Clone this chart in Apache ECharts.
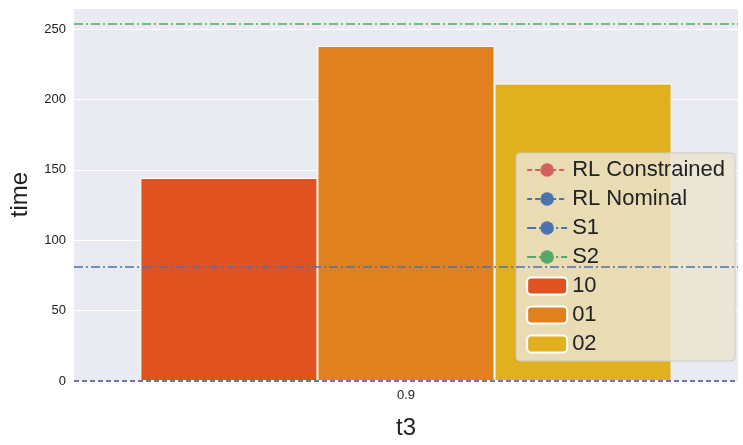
<!doctype html>
<html>
<head>
<meta charset="UTF-8">
<script src="https://cdn.jsdelivr.net/npm/echarts@6/dist/echarts.min.js"></script>
<style>body{margin:0;background:#fff}#main{width:743px;height:445px}</style>
</head>
<body>
<div id="main"></div>
<script>
var categories = ['0.9'];
var barNames = ['10', '01', '02'];
var barValues = [[144.2], [238.0], [211.3]];
var barColors = ['#e0521f', '#e0801f', '#e0b01f'];
var lineNames = ['RL Constrained', 'RL Nominal', 'S1', 'S2'];
var lineValues = [0, 0, 81.2, 253.5];
var lineColors = ['#d65f5f', '#4c72b0', '#4c72b0', '#55a868'];
var lineTypes = [[5, 3], [5, 3], [9, 3, 2, 3], [9, 3, 2, 3]];
var yTicks = [0, 50, 100, 150, 200, 250];

var series = [];
lineNames.forEach(function (n, i) {
    series.push({
        name: n, type: 'line', data: [], symbol: 'none',
        lineStyle: {color: lineColors[i], type: lineTypes[i], width: 1.5},
        itemStyle: {color: lineColors[i]},
        markLine: {
            silent: true, symbol: 'none', label: {show: false},
            lineStyle: {color: lineColors[i], type: lineTypes[i], width: 1.5},
            data: [{yAxis: lineValues[i]}]
        }
    });
});
barNames.forEach(function (n, i) {
    series.push({
        name: n, type: 'bar', data: barValues[i], barGap: '0%', barCategoryGap: '20%',
        itemStyle: {color: barColors[i], borderColor: '#fff', borderWidth: 1}
    });
});

var myChart = echarts.init(document.getElementById('main'));
myChart.setOption({
    animation: false,
    textStyle: {fontFamily: 'Arial, Liberation Sans, sans-serif'},
    grid: {left: 68, right: 5, top: 8, bottom: 58, backgroundColor: '#eaeaf2', show: true, borderWidth: 0},
    legend: {
        orient: 'vertical', right: 8, top: 153,
        backgroundColor: 'rgba(234,228,208,0.85)', borderColor: '#ccc', borderWidth: 1, borderRadius: 4,
        padding: [6, 10, 6, 10], itemGap: 7, itemWidth: 40, itemHeight: 17,
        textStyle: {fontSize: 22, color: '#222'},
        data: lineNames.concat(barNames)
    },
    xAxis: {
        type: 'category', data: categories, name: 't3', nameLocation: 'middle', nameGap: 35,
        nameTextStyle: {fontSize: 24, color: '#222'},
        axisLine: {show: false}, axisTick: {show: false},
        axisLabel: {fontSize: 13, color: '#222'}
    },
    yAxis: {
        type: 'value', min: 0, max: 265, interval: 50, name: 'time', nameLocation: 'middle', nameGap: 42,
        nameTextStyle: {fontSize: 24, color: '#222'},
        axisLine: {show: false}, axisTick: {show: false},
        axisLabel: {fontSize: 13, color: '#222', showMaxLabel: false},
        splitLine: {lineStyle: {color: '#fff', width: 1}}
    },
    series: series
});
</script>
</body>
</html>
